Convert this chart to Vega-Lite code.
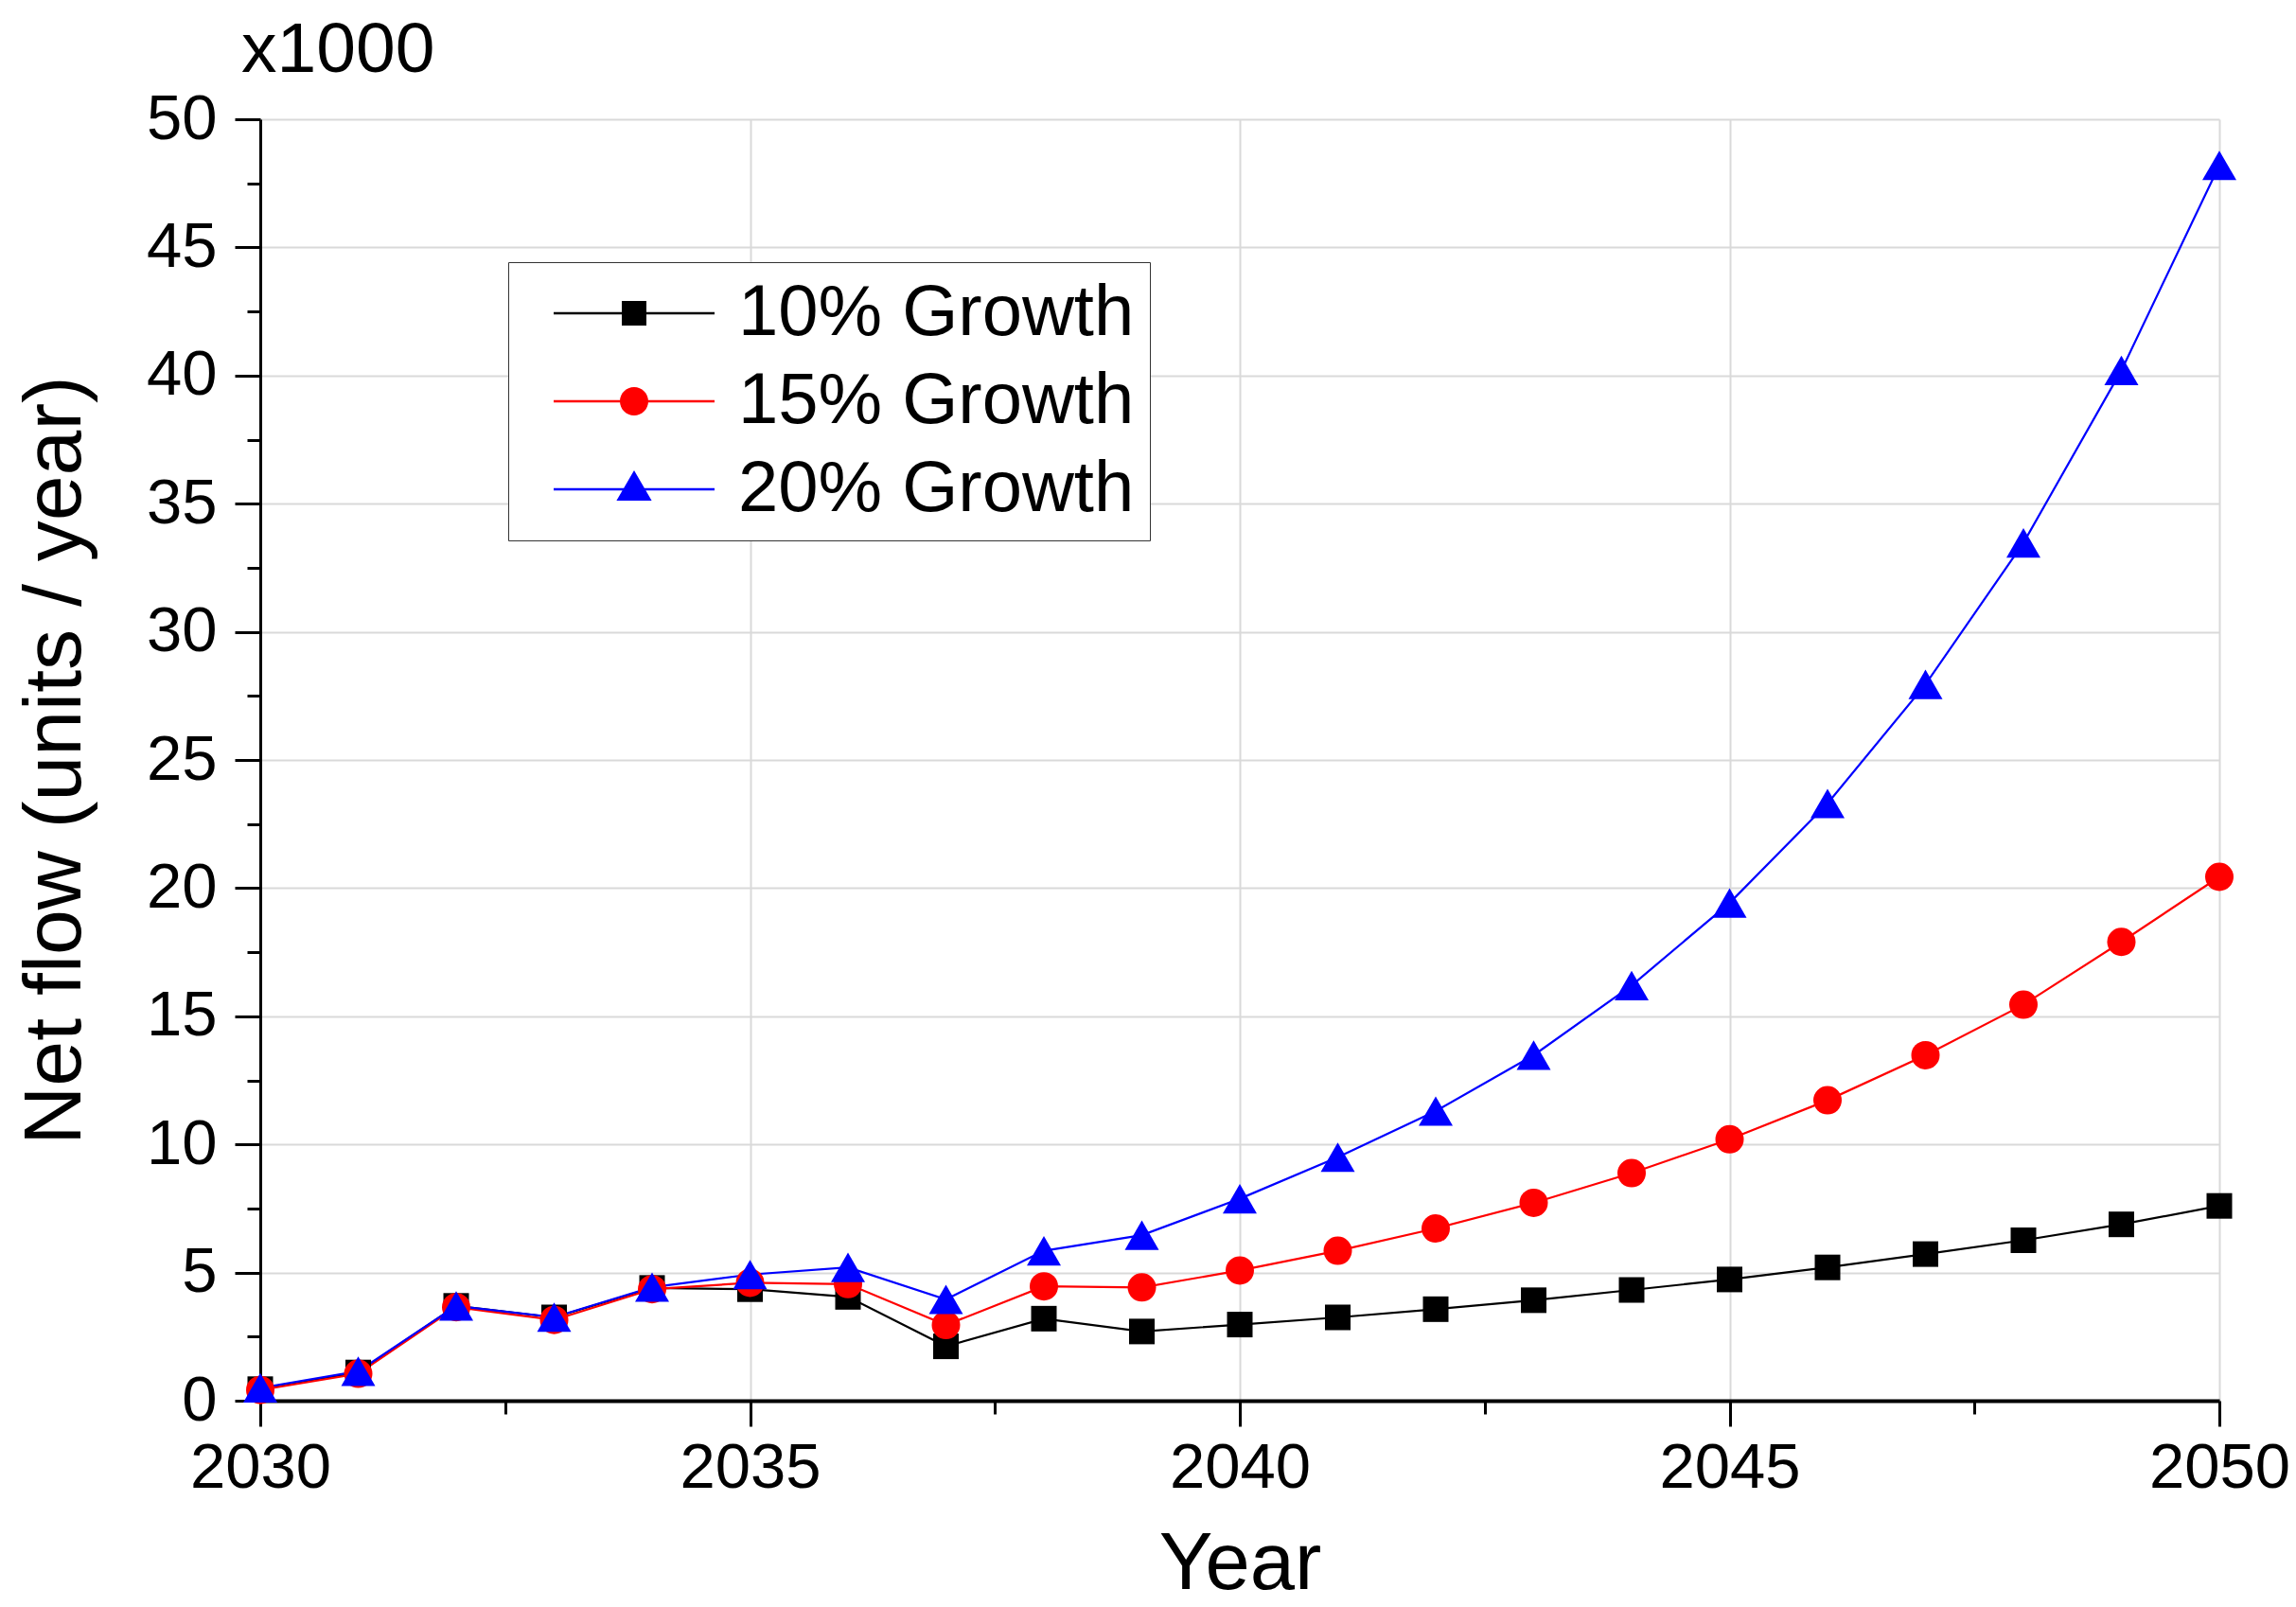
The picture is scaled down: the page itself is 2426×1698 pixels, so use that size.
{
  "$schema": "https://vega.github.io/schema/vega-lite/v6.json",
  "width": 2070,
  "height": 1354,
  "autosize": {"type": "none"},
  "padding": {"left": 275, "top": 126, "right": 81, "bottom": 218},
  "background": "white",
  "title": {"text": "x1000", "anchor": "start", "frame": "group", "fontSize": 75, "fontWeight": "normal", "font": "Liberation Sans", "color": "black", "dx": -20, "dy": 111, "offset": 36, "baseline": "bottom"},
  "data": {"values": [
    {"year": 2030, "series": "10% Growth", "value": 0.45},
    {"year": 2031, "series": "10% Growth", "value": 1.1},
    {"year": 2032, "series": "10% Growth", "value": 3.7},
    {"year": 2033, "series": "10% Growth", "value": 3.25},
    {"year": 2034, "series": "10% Growth", "value": 4.4},
    {"year": 2035, "series": "10% Growth", "value": 4.35},
    {"year": 2036, "series": "10% Growth", "value": 4.05},
    {"year": 2037, "series": "10% Growth", "value": 2.12},
    {"year": 2038, "series": "10% Growth", "value": 3.2},
    {"year": 2039, "series": "10% Growth", "value": 2.7},
    {"year": 2040, "series": "10% Growth", "value": 2.97},
    {"year": 2041, "series": "10% Growth", "value": 3.25},
    {"year": 2042, "series": "10% Growth", "value": 3.57},
    {"year": 2043, "series": "10% Growth", "value": 3.92},
    {"year": 2044, "series": "10% Growth", "value": 4.32},
    {"year": 2045, "series": "10% Growth", "value": 4.73},
    {"year": 2046, "series": "10% Growth", "value": 5.2},
    {"year": 2047, "series": "10% Growth", "value": 5.72},
    {"year": 2048, "series": "10% Growth", "value": 6.26},
    {"year": 2049, "series": "10% Growth", "value": 6.88},
    {"year": 2050, "series": "10% Growth", "value": 7.6},
    {"year": 2030, "series": "15% Growth", "value": 0.42},
    {"year": 2031, "series": "15% Growth", "value": 1.05},
    {"year": 2032, "series": "15% Growth", "value": 3.65},
    {"year": 2033, "series": "15% Growth", "value": 3.15},
    {"year": 2034, "series": "15% Growth", "value": 4.35},
    {"year": 2035, "series": "15% Growth", "value": 4.6},
    {"year": 2036, "series": "15% Growth", "value": 4.55},
    {"year": 2037, "series": "15% Growth", "value": 2.95},
    {"year": 2038, "series": "15% Growth", "value": 4.46},
    {"year": 2039, "series": "15% Growth", "value": 4.42},
    {"year": 2040, "series": "15% Growth", "value": 5.08},
    {"year": 2041, "series": "15% Growth", "value": 5.85},
    {"year": 2042, "series": "15% Growth", "value": 6.72},
    {"year": 2043, "series": "15% Growth", "value": 7.72},
    {"year": 2044, "series": "15% Growth", "value": 8.88},
    {"year": 2045, "series": "15% Growth", "value": 10.2},
    {"year": 2046, "series": "15% Growth", "value": 11.72},
    {"year": 2047, "series": "15% Growth", "value": 13.48},
    {"year": 2048, "series": "15% Growth", "value": 15.45},
    {"year": 2049, "series": "15% Growth", "value": 17.9},
    {"year": 2050, "series": "15% Growth", "value": 20.44},
    {"year": 2030, "series": "20% Growth", "value": 0.5},
    {"year": 2031, "series": "20% Growth", "value": 1.15},
    {"year": 2032, "series": "20% Growth", "value": 3.7},
    {"year": 2033, "series": "20% Growth", "value": 3.26},
    {"year": 2034, "series": "20% Growth", "value": 4.43},
    {"year": 2035, "series": "20% Growth", "value": 4.92},
    {"year": 2036, "series": "20% Growth", "value": 5.2},
    {"year": 2037, "series": "20% Growth", "value": 3.95},
    {"year": 2038, "series": "20% Growth", "value": 5.85},
    {"year": 2039, "series": "20% Growth", "value": 6.46},
    {"year": 2040, "series": "20% Growth", "value": 7.88},
    {"year": 2041, "series": "20% Growth", "value": 9.5},
    {"year": 2042, "series": "20% Growth", "value": 11.3},
    {"year": 2043, "series": "20% Growth", "value": 13.48},
    {"year": 2044, "series": "20% Growth", "value": 16.2},
    {"year": 2045, "series": "20% Growth", "value": 19.42},
    {"year": 2046, "series": "20% Growth", "value": 23.3},
    {"year": 2047, "series": "20% Growth", "value": 27.95},
    {"year": 2048, "series": "20% Growth", "value": 33.47},
    {"year": 2049, "series": "20% Growth", "value": 40.2},
    {"year": 2050, "series": "20% Growth", "value": 48.2}
  ]},
  "layer": [
    {
      "data": {"values": []},
      "mark": {"type": "point", "filled": true, "opacity": 1},
      "encoding": {
        "color": {
          "field": "series", "type": "nominal",
          "scale": {"domain": ["10% Growth", "15% Growth", "20% Growth"], "range": ["#000000", "#ff0000", "#0000ff"]},
          "legend": {"orient": "none", "legendX": 262, "legendY": 151, "title": null, "labelFontSize": 76, "labelFont": "Liberation Sans", "labelColor": "black", "labelLimit": 0, "symbolSize": 1600, "symbolOffset": 79, "labelOffset": 72, "padding": 16, "rowPadding": 17, "strokeColor": "#333333", "fillColor": "white", "symbolStrokeWidth": 0, "symbolOpacity": 1}
        },
        "shape": {
          "field": "series", "type": "nominal",
          "scale": {"domain": ["10% Growth", "15% Growth", "20% Growth"], "range": [
            "M-4.25,-0.06H4.25V0.06H-4.25Z M-0.65,-0.65H0.65V0.65H-0.65Z",
            "M-4.25,-0.06H4.25V0.06H-4.25Z M-0.75,0A0.75,0.75 0 1,1 0.75,0A0.75,0.75 0 1,1 -0.75,0Z",
            "M-4.25,-0.06H4.25V0.06H-4.25Z M0,-1.0L0.93,0.6H-0.93Z"
          ]},
          "legend": {"orient": "none", "legendX": 262, "legendY": 151, "title": null, "labelFontSize": 76, "labelFont": "Liberation Sans", "labelColor": "black", "labelLimit": 0, "symbolSize": 1600, "symbolOffset": 79, "labelOffset": 72, "padding": 16, "rowPadding": 17, "strokeColor": "#333333", "fillColor": "white", "symbolStrokeWidth": 0, "symbolOpacity": 1}
        }
      }
    },
    {
      "mark": {"type": "line", "strokeWidth": 2.2},
      "encoding": {
        "x": {
          "field": "year", "type": "quantitative", "title": "Year",
          "scale": {"domain": [2030, 2050], "nice": false, "zero": false},
          "axis": {
            "values": [2030, 2032.5, 2035, 2037.5, 2040, 2042.5, 2045, 2047.5, 2050],
            "format": "d",
            "labelExpr": "datum.value % 5 === 0 ? datum.label : ''",
            "tickSize": {"condition": {"test": "datum.value % 5 === 0", "value": 27}, "value": 14},
            "gridOpacity": {"condition": {"test": "datum.value % 5 === 0", "value": 1}, "value": 0},
            "labelFontSize": 67, "labelPadding": 11, "labelColor": "black", "labelFont": "Liberation Sans",
            "labelFlush": false, "labelOverlap": false,
            "domainColor": "black", "domainWidth": 4, "tickColor": "black", "tickWidth": 3,
            "gridColor": "#d9d9d9", "gridWidth": 2,
            "titleFontSize": 85, "titleFontWeight": "normal", "titleColor": "black", "titleFont": "Liberation Sans", "titlePadding": 27
          }
        },
        "y": {
          "field": "value", "type": "quantitative", "title": "Net flow (units / year)",
          "scale": {"domain": [0, 50], "nice": false},
          "axis": {
            "values": [0, 2.5, 5, 7.5, 10, 12.5, 15, 17.5, 20, 22.5, 25, 27.5, 30, 32.5, 35, 37.5, 40, 42.5, 45, 47.5, 50],
            "labelExpr": "datum.value % 5 === 0 ? datum.label : ''",
            "tickSize": {"condition": {"test": "datum.value % 5 === 0", "value": 27}, "value": 14},
            "gridOpacity": {"condition": {"test": "datum.value % 5 === 0", "value": 1}, "value": 0},
            "labelFontSize": 67, "labelPadding": 19, "labelColor": "black", "labelFont": "Liberation Sans",
            "labelFlush": false, "labelOverlap": false,
            "domainColor": "black", "domainWidth": 3, "tickColor": "black", "tickWidth": 3,
            "gridColor": "#d9d9d9", "gridWidth": 2,
            "titleFontSize": 86, "titleFontWeight": "normal", "titleColor": "black", "titleFont": "Liberation Sans", "titlePadding": 52
          }
        },
        "color": {"field": "series", "type": "nominal"}
      }
    },
    {
      "transform": [{"filter": "datum.series === '10% Growth'"}],
      "mark": {"type": "point", "shape": "square", "filled": true, "opacity": 1, "size": 729},
      "encoding": {
        "x": {"field": "year", "type": "quantitative"},
        "y": {"field": "value", "type": "quantitative"},
        "color": {"field": "series", "type": "nominal"}
      }
    },
    {
      "transform": [{"filter": "datum.series === '15% Growth'"}],
      "mark": {"type": "point", "shape": "circle", "filled": true, "opacity": 1, "size": 900},
      "encoding": {
        "x": {"field": "year", "type": "quantitative"},
        "y": {"field": "value", "type": "quantitative"},
        "color": {"field": "series", "type": "nominal"}
      }
    },
    {
      "transform": [{"filter": "datum.series === '20% Growth'"}],
      "mark": {"type": "point", "shape": "triangle-up", "filled": true, "opacity": 1, "size": 1296},
      "encoding": {
        "x": {"field": "year", "type": "quantitative"},
        "y": {"field": "value", "type": "quantitative"},
        "color": {"field": "series", "type": "nominal"}
      }
    }
  ],
  "config": {
    "font": "Liberation Sans",
    "view": {"stroke": null}
  }
}
